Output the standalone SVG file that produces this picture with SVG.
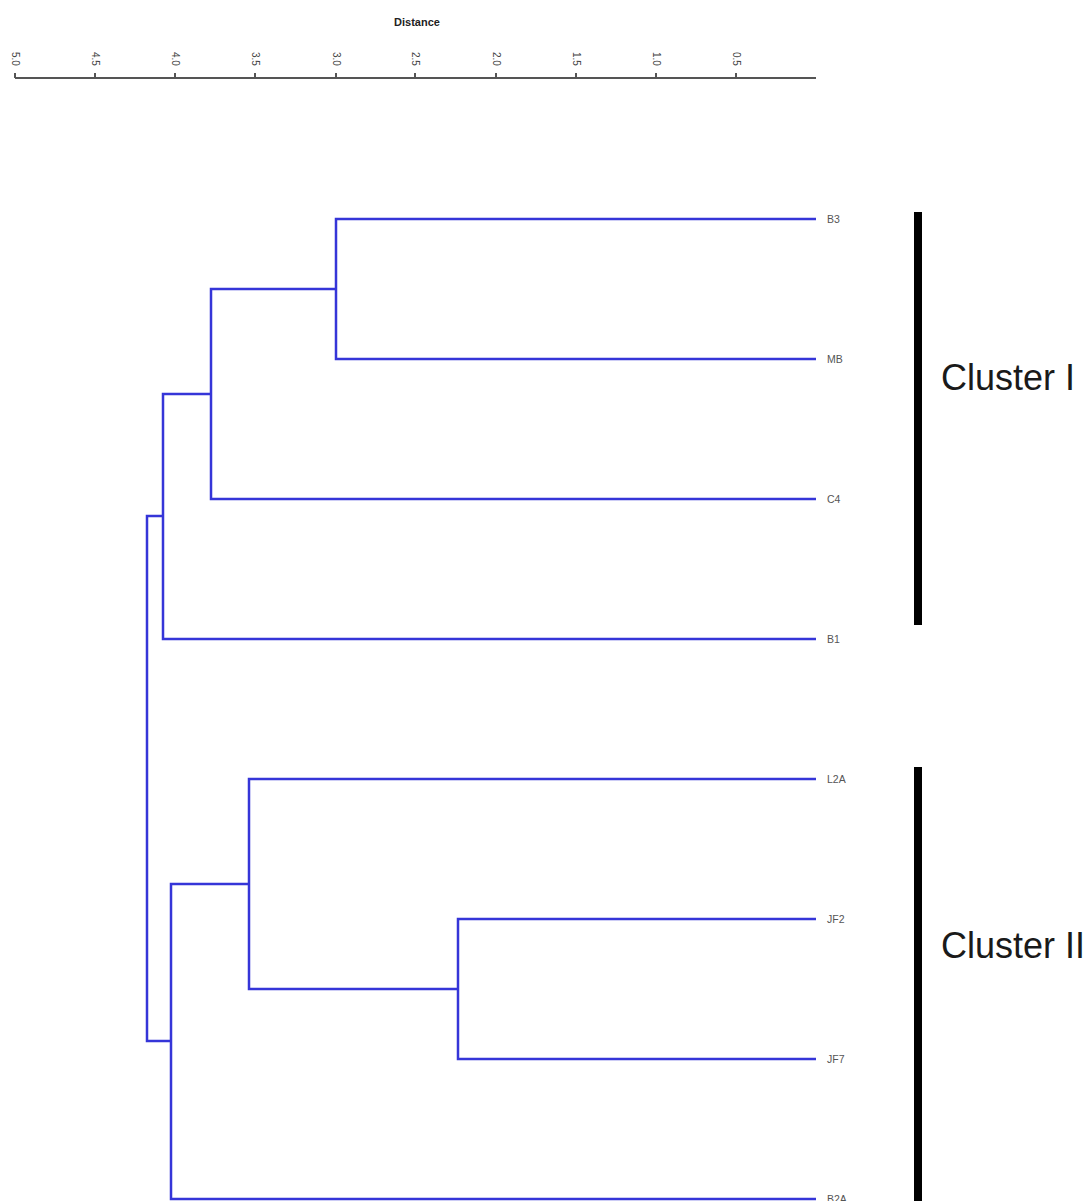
<svg xmlns="http://www.w3.org/2000/svg" width="1091" height="1201" viewBox="0 0 1091 1201">
<style>
.ax{stroke:#555;stroke-width:2;fill:none}
.tk{font-family:"Liberation Sans",Arial,sans-serif;font-size:10px;fill:#444}
.lf{font-family:"Liberation Sans",Arial,sans-serif;font-size:10.5px;fill:#555}
.br{stroke:#3535d8;stroke-width:2.5;fill:none;stroke-linejoin:miter}
.bar{fill:#000}
.cl{font-family:"Liberation Sans",Arial,sans-serif;font-size:36px;fill:#1a1a1a}
</style>
<rect width="1091" height="1201" fill="#fff"/>
<g id="axis">
<text x="417" y="26" text-anchor="middle" style="font-family:'Liberation Sans',Arial,sans-serif;font-size:11px;font-weight:bold;fill:#222">Distance</text>
<path class="ax" d="M15,78H816M15,78V73M95,78V73M175,78V73M255,78V73M336,78V73M415,78V73M496,78V73M576,78V73M656,78V73M736,78V73"/>
<text class="tk" transform="translate(12,52) rotate(90)">5.0</text>
<text class="tk" transform="translate(92,52) rotate(90)">4.5</text>
<text class="tk" transform="translate(172,52) rotate(90)">4.0</text>
<text class="tk" transform="translate(252,52) rotate(90)">3.5</text>
<text class="tk" transform="translate(333,52) rotate(90)">3.0</text>
<text class="tk" transform="translate(412,52) rotate(90)">2.5</text>
<text class="tk" transform="translate(493,52) rotate(90)">2.0</text>
<text class="tk" transform="translate(573,52) rotate(90)">1.5</text>
<text class="tk" transform="translate(653,52) rotate(90)">1.0</text>
<text class="tk" transform="translate(733,52) rotate(90)">0.5</text>
</g>
<g id="connectors">
<path class="br" d="M816,219H336V359H816"/>
<path class="br" d="M336,289H211V499H816"/>
<path class="br" d="M211,394H163V639H816"/>
<path class="br" d="M816,919H458V1059H816"/>
<path class="br" d="M458,989H249V779H816"/>
<path class="br" d="M249,884H171V1199H816"/>
<path class="br" d="M163,516H147V1041H171"/>
</g>
<g id="leaf-B3"><text class="lf" x="827" y="223">B3</text></g>
<g id="leaf-MB"><text class="lf" x="827" y="363">MB</text></g>
<g id="leaf-C4"><text class="lf" x="827" y="503">C4</text></g>
<g id="leaf-B1"><text class="lf" x="827" y="643">B1</text></g>
<g id="leaf-L2A"><text class="lf" x="827" y="783">L2A</text></g>
<g id="leaf-JF2"><text class="lf" x="827" y="923">JF2</text></g>
<g id="leaf-JF7"><text class="lf" x="827" y="1063">JF7</text></g>
<g id="leaf-B2A"><text class="lf" x="827" y="1203">B2A</text></g>
<g id="cluster-I">
<rect class="bar" x="914" y="212" width="8" height="413"/>
<text class="cl" x="941" y="390">Cluster I</text>
</g>
<g id="cluster-II">
<rect class="bar" x="914" y="767" width="8" height="434"/>
<text class="cl" x="941" y="958">Cluster II</text>
</g>
</svg>
